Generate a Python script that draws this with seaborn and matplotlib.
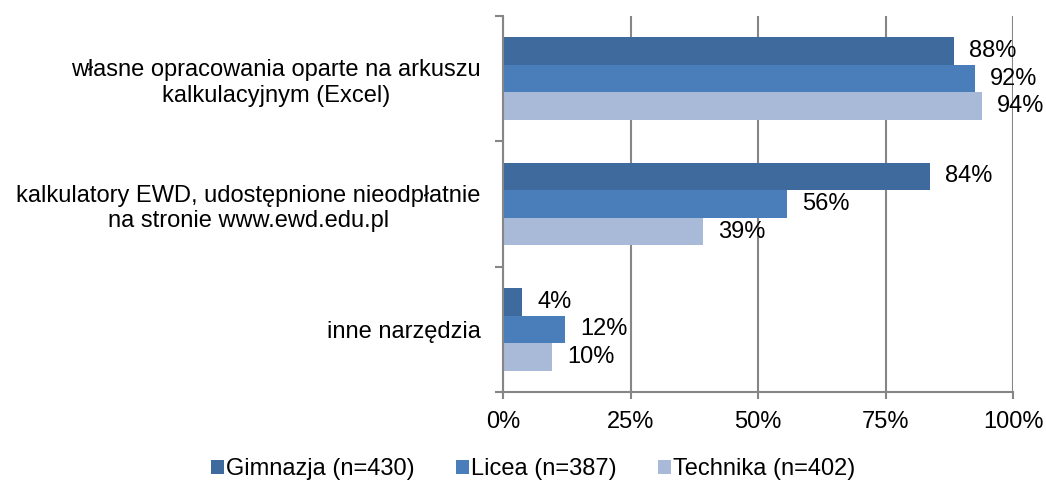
import pandas as pd
import matplotlib
matplotlib.use("Agg")
import matplotlib.pyplot as plt
from matplotlib.patches import Patch
from matplotlib.ticker import FixedLocator, PercentFormatter
import seaborn as sns

# Data (percent of schools)
categories = [
    "własne opracowania oparte na arkuszu\nkalkulacyjnym (Excel)",
    "kalkulatory EWD, udostępnione nieodpłatnie\nna stronie www.ewd.edu.pl",
    "inne narzędzia",
]
series = ["Gimnazja (n=430)", "Licea (n=387)", "Technika (n=402)"]
gimnazja = [88.4, 83.7, 3.8]
licea = [92.5, 55.7, 12.2]
technika = [93.9, 39.2, 9.6]
colors = ["#3F6A9E", "#4A7EBB", "#A9B9D8"]


def main() -> None:
    sns.set_theme(style="white")
    plt.rcParams["font.family"] = ["Liberation Sans", "DejaVu Sans"]
    plt.rcParams["text.color"] = "black"
    plt.rcParams["xtick.color"] = "black"
    plt.rcParams["ytick.color"] = "black"

    fs = 17

    rows = []
    for name, vals in zip(series, [gimnazja, licea, technika]):
        for cat, v in zip(categories, vals):
            rows.append({"Kategoria": cat, "Szkoła": name, "Procent": v})
    data = pd.DataFrame(rows)

    fig = plt.figure(figsize=(10.46, 4.83), dpi=100)
    ax = fig.add_axes([503 / 1046, 1 - 392 / 483, 510 / 1046, 376 / 483])

    sns.barplot(data=data, y="Kategoria", x="Procent", hue="Szkoła",
                hue_order=series, order=categories, palette=colors,
                orient="h", width=0.66, ax=ax, legend=False,
                edgecolor="none", saturation=1, zorder=2)

    for cont in ax.containers:
        ax.bar_label(cont, fmt="%.0f%%", padding=11, fontsize=fs, color="black")

    grid_col = "#868686"
    ax.set_xlim(0, 100)
    ax.set_ylim(2.5, -0.5)
    ax.xaxis.set_major_locator(FixedLocator([0, 25, 50, 75, 100]))
    ax.xaxis.set_major_formatter(PercentFormatter(decimals=0))
    ax.grid(axis="x", color=grid_col, lw=1.5, zorder=0)
    ax.set_axisbelow(True)
    ax.set_xlabel("")
    ax.set_ylabel("")

    for side in ["top", "right"]:
        ax.spines[side].set_visible(False)
    for side in ["left", "bottom"]:
        ax.spines[side].set_color(grid_col)
        ax.spines[side].set_linewidth(1.5)

    ax.tick_params(axis="x", length=5, width=1.5, color=grid_col,
                   labelcolor="black", labelsize=fs, pad=9, bottom=True)
    ax.tick_params(axis="y", which="major", length=0, labelsize=fs,
                   labelcolor="black", pad=16)
    ax.yaxis.set_minor_locator(FixedLocator([-0.5, 0.5, 1.5, 2.5]))
    ax.tick_params(axis="y", which="minor", length=6, width=1.5,
                   color=grid_col, left=True)
    for lbl in ax.get_yticklabels():
        lbl.set_multialignment("center")

    handles = [Patch(facecolor=c, edgecolor="none", label=s)
               for c, s in zip(colors, series)]
    fig.legend(handles=handles, loc="center", bbox_to_anchor=(0.51, 0.028),
               ncol=3, frameon=False, fontsize=fs, handlelength=0.52,
               handleheight=0.52, handletextpad=0.12, columnspacing=1.75)

    fig.savefig("out.png", dpi=100)
    plt.close(fig)


if __name__ == "__main__":
    main()
